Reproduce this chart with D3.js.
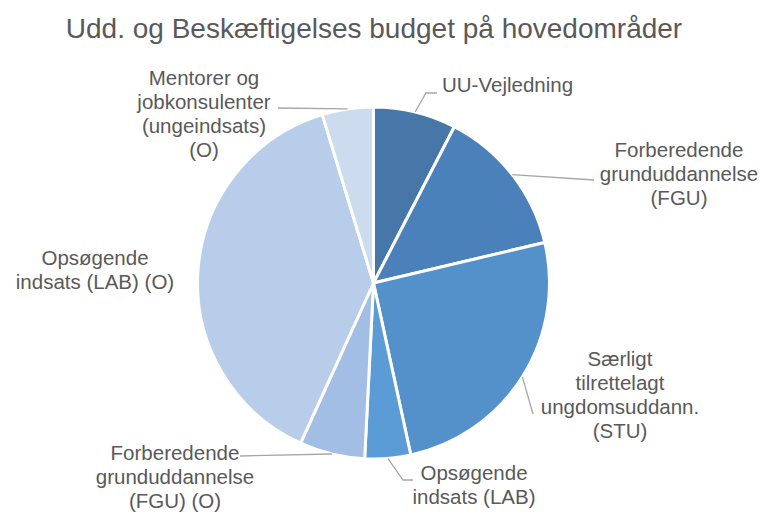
<!DOCTYPE html>
<html>
<head>
<meta charset="utf-8">
<script src="https://cdn.jsdelivr.net/npm/d3@7"></script>
<style>
  body { margin: 0; background: #fff; }
  text { font-family: "Liberation Sans", Arial, sans-serif; fill: #595959; }
</style>
</head>
<body>
<div id="chart"></div>
<script>
// slice data (share of budget, %)
const categories = [
  "UU-Vejledning",
  "Forberedende grunduddannelse (FGU)",
  "Særligt tilrettelagt ungdomsuddann. (STU)",
  "Opsøgende indsats (LAB)",
  "Forberedende grunduddannelse (FGU) (O)",
  "Opsøgende indsats (LAB) (O)",
  "Mentorer og jobkonsulenter (ungeindsats) (O)"
];
const values = [7.6, 13.7, 25.3, 4.2, 6.0, 38.5, 4.7];
const labelLines = [
  ["UU-Vejledning"],
  ["Forberedende", "grunduddannelse", "(FGU)"],
  ["Særligt", "tilrettelagt", "ungdomsuddann.", "(STU)"],
  ["Opsøgende", "indsats (LAB)"],
  ["Forberedende", "grunduddannelse", "(FGU) (O)"],
  ["Opsøgende", "indsats (LAB) (O)"],
  ["Mentorer og", "jobkonsulenter", "(ungeindsats)", "(O)"]
];
const colors = ["#4677a8", "#4b81ba", "#5490ca", "#5b9bd6", "#a3bee4", "#b8cde9", "#ccdbee"];

const width = 763, height = 512;
const cx = 373.5, cy = 283, radius = 176;

// label layout: anchor x, first baseline, text-anchor, leader elbow / end
const labelLayout = [
  { x: 442, y: 92, anchor: "start", leader: [[426, 93], [437, 93]] },
  { x: 679, y: 157, anchor: "middle", leader: [[594, 180]] },
  { x: 620, y: 366, anchor: "middle", leader: [[533, 414]] },
  { x: 474, y: 480, anchor: "middle", leader: [[403, 480], [413, 480]] },
  { x: 175, y: 460, anchor: "middle", leader: [[240, 456]] },
  { x: 95, y: 265, anchor: "middle", leader: null },
  { x: 204, y: 85, anchor: "middle", leader: [[278, 108]] }
];
const lineHeight = 24;

const svg = d3.select("#chart").append("svg")
  .attr("width", width)
  .attr("height", height);

svg.append("text")
  .attr("x", 374)
  .attr("y", 38)
  .attr("text-anchor", "middle")
  .style("font-size", "28px")
  .text("Udd. og Beskæftigelses budget på hovedområder");

const pie = d3.pie().sort(null).value(d => d)(values);
const arc = d3.arc().innerRadius(0).outerRadius(radius);
const edge = d3.arc().innerRadius(radius).outerRadius(radius);

const g = svg.append("g").attr("transform", `translate(${cx},${cy})`);

g.selectAll("path")
  .data(pie)
  .enter()
  .append("path")
    .attr("d", arc)
    .attr("fill", (d, i) => colors[i])
    .attr("stroke", "#fff")
    .attr("stroke-width", 3)
    .attr("stroke-linejoin", "round");

// leader lines from slice edge midpoint
pie.forEach(function(d, i) {
  const lay = labelLayout[i];
  if (!lay.leader) return;
  const c = edge.centroid(d);
  const pts = [[c[0] + cx, c[1] + cy]].concat(lay.leader);
  svg.append("path")
    .attr("d", d3.line()(pts))
    .attr("fill", "none")
    .attr("stroke", "#a6a6a6")
    .attr("stroke-width", 1.3);
});

labelLines.forEach(function(lines, i) {
  const lay = labelLayout[i];
  const t = svg.append("text")
    .attr("text-anchor", lay.anchor)
    .style("font-size", "20.5px");
  lines.forEach(function(l, j) {
    t.append("tspan")
      .attr("x", lay.x)
      .attr("y", lay.y + j * lineHeight)
      .text(l);
  });
});
</script>
</body>
</html>
